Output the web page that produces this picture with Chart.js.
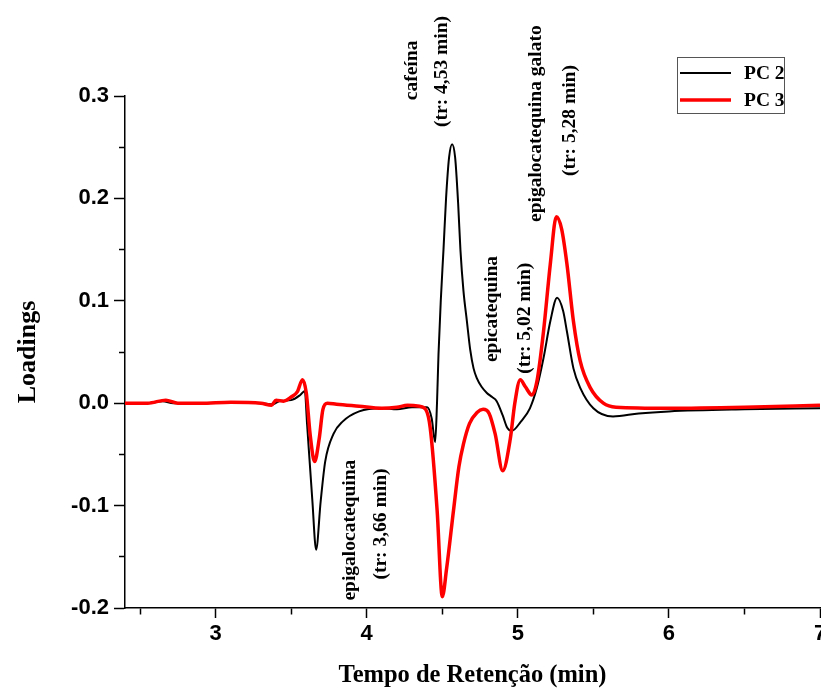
<!DOCTYPE html>
<html lang="pt">
<head>
<meta charset="UTF-8">
<title>Loadings PC 2 / PC 3</title>
<script src="https://cdn.jsdelivr.net/npm/chart.js"></script>
<style>
  body { margin: 0; background: #fff; }
  #wrap { width: 821px; height: 690px; }
</style>
</head>
<body>
<div id="wrap"><canvas id="loadingsChart"></canvas></div>
<script>
// values
const pc2Time = [2.40, 2.55, 2.65, 2.72, 2.90, 3.10, 3.30, 3.38, 3.42, 3.50, 3.56, 3.59, 3.605, 3.64, 3.665, 3.695, 3.725, 3.78, 3.84, 3.95,
  4.10, 4.20, 4.30, 4.40, 4.43, 4.453, 4.465, 4.475, 4.49, 4.508, 4.525, 4.545, 4.565, 4.585, 4.605, 4.62, 4.64, 4.663, 4.685, 4.707,
  4.73, 4.76, 4.795, 4.83, 4.86, 4.90, 4.93, 4.96, 5.02, 5.08, 5.126, 5.17, 5.215, 5.26, 5.30, 5.325, 5.368, 5.413, 5.50, 5.63,
  5.80, 6.00, 6.50, 7.00];
const pc2Loading = [0.000, 0.000, 0.002, 0.000, 0.000, 0.001, 0.000, -0.001, 0.002, 0.003, 0.008, 0.012, -0.020, -0.095, -0.143, -0.096, -0.057, -0.030, -0.018, -0.008,
  -0.005, -0.006, -0.004, -0.004, -0.015, -0.038, 0.000, 0.048, 0.100, 0.150, 0.200, 0.240, 0.253, 0.240, 0.195, 0.150, 0.110, 0.080, 0.052, 0.034,
  0.024, 0.016, 0.010, 0.006, 0.002, -0.012, -0.024, -0.027, -0.018, -0.005, 0.015, 0.044, 0.080, 0.103, 0.090, 0.070, 0.034, 0.015, -0.005, -0.013,
  -0.010, -0.008, -0.006, -0.005];

const pc3Time = [2.40, 2.55, 2.67, 2.75, 2.90, 3.10, 3.30, 3.37, 3.40, 3.45, 3.50, 3.54, 3.575, 3.60, 3.625, 3.655, 3.685, 3.71, 3.74, 3.80,
  3.95, 4.10, 4.20, 4.27, 4.35, 4.39, 4.42, 4.466, 4.50, 4.529, 4.574, 4.61, 4.64, 4.68, 4.73, 4.77, 4.81, 4.85, 4.90, 4.95,
  4.98, 5.016, 5.05, 5.093, 5.126, 5.17, 5.215, 5.255, 5.29, 5.325, 5.368, 5.413, 5.48, 5.566, 5.65, 6.00, 6.50, 7.00];
const pc3Loading = [0.000, 0.000, 0.003, 0.000, 0.000, 0.001, 0.000, -0.002, 0.003, 0.002, 0.006, 0.011, 0.023, 0.010, -0.030, -0.057, -0.035, -0.006, 0.000, -0.001,
  -0.003, -0.005, -0.004, -0.002, -0.003, -0.006, -0.024, -0.105, -0.189, -0.161, -0.105, -0.062, -0.040, -0.020, -0.009, -0.006, -0.010, -0.030, -0.066, -0.035,
  0.000, 0.023, 0.016, 0.008, 0.021, 0.070, 0.136, 0.182, 0.170, 0.136, 0.080, 0.041, 0.015, 0.000, -0.004, -0.005, -0.004, -0.002];

// peak labels (rotated text), anchored in data units
const peakText = ['cafeína', '(tr: 4,53 min)', 'epigalocatequina galato', '(tr: 5,28 min)',
  'epicatequina', '(tr: 5,02 min)', 'epigalocatequina', '(tr: 3,66 min)'];
const peakTime = [4.300, 4.500, 5.122, 5.347, 4.830, 5.049, 3.890, 4.095];
const peakLoading = [0.325, 0.324, 0.273, 0.276, 0.092, 0.083, -0.124, -0.118];

const xMin = 2.4, xMax = 7.0;
const yMin = -0.2, yMax = 0.3;

const serif = '"Liberation Serif", "Times New Roman", serif';
const sans = '"Liberation Sans", Arial, sans-serif';

const toPoints = (ts, vs) => ts.map((t, i) => ({x: t, y: vs[i]}));
const isWhole = (v, step) => Math.abs(Math.round(v / step) * step - v) < 1e-6;

const peakLabels = {
  id: 'peakLabels',
  afterDraw(chart) {
    const {ctx, scales} = chart;
    ctx.save();
    ctx.font = 'bold 19.5px ' + serif;
    ctx.fillStyle = '#000';
    ctx.textAlign = 'center';
    ctx.textBaseline = 'middle';
    peakText.forEach((txt, i) => {
      const px = scales.x.getPixelForValue(peakTime[i]);
      const py = scales.y.getPixelForValue(peakLoading[i]);
      ctx.save();
      ctx.translate(px, py);
      ctx.rotate(-Math.PI / 2);
      ctx.fillText(txt, 0, 0);
      ctx.restore();
    });
    ctx.restore();
  }
};

// legend box sits above the plot area, top right
const boxLegend = {
  id: 'boxLegend',
  afterDraw(chart) {
    const ctx = chart.ctx;
    const left = 677, top = 57, w = 107, h = 56;
    ctx.save();
    ctx.strokeStyle = '#555';
    ctx.lineWidth = 1;
    ctx.strokeRect(left + 0.5, top + 0.5, w, h);
    ctx.font = 'bold 19.5px ' + serif;
    ctx.textBaseline = 'middle';
    ctx.fillStyle = '#000';
    chart.data.datasets.forEach((ds, i) => {
      const y = top + 16 + i * 27;
      ctx.beginPath();
      ctx.strokeStyle = ds.borderColor;
      ctx.lineWidth = ds.borderWidth;
      ctx.moveTo(left + 3, y);
      ctx.lineTo(left + 54, y);
      ctx.stroke();
      ctx.fillText(ds.label, left + 67, y + 1);
    });
    ctx.restore();
  }
};

const chart = new Chart(document.getElementById('loadingsChart'), {
  type: 'line',
  data: {
    datasets: [
      {
        label: 'PC 2',
        data: toPoints(pc2Time, pc2Loading),
        borderColor: '#000000',
        borderWidth: 2,
        order: 1
      },
      {
        label: 'PC 3',
        data: toPoints(pc3Time, pc3Loading),
        borderColor: '#ff0000',
        borderWidth: 3.5,
        order: 0
      }
    ]
  },
  options: {
    responsive: true,
    maintainAspectRatio: false,
    animation: false,
    parsing: false,
    elements: {
      point: { radius: 0 },
      line: { cubicInterpolationMode: 'monotone', fill: false }
    },
    layout: { padding: { top: 96, right: 1, left: 0, bottom: 0 } },
    plugins: {
      legend: { display: false },
      tooltip: { enabled: false }
    },
    scales: {
      x: {
        type: 'linear',
        min: xMin,
        max: xMax,
        afterFit(scale) {
          scale.height = 82;
          scale.paddingLeft = 0;
          scale.paddingRight = 0;
        },
        border: { display: true, color: '#000', width: 1.5 },
        grid: {
          drawOnChartArea: false,
          drawTicks: true,
          tickLength: 10,
          tickColor: '#000',
          tickWidth: 1.5,
          tickBorderDash: ctx => isWhole(ctx.tick.value, 1) ? [] : [6, 100]
        },
        ticks: {
          stepSize: 0.5,
          includeBounds: false,
          autoSkip: false,
          maxRotation: 0,
          padding: 3,
          color: '#000',
          font: { family: sans, size: 22, weight: 'bold' },
          callback: v => isWhole(v, 1) ? String(Math.round(v)) : ''
        },
        title: {
          display: true,
          text: 'Tempo de Retenção (min)',
          color: '#000',
          font: { family: serif, size: 24.5, weight: 'bold' },
          padding: { top: 0, bottom: 0 }
        }
      },
      y: {
        min: yMin,
        max: yMax,
        afterFit(scale) {
          scale.width = 125;
          scale.paddingTop = 0;
          scale.paddingBottom = 0;
        },
        border: { display: true, color: '#000', width: 1.5 },
        grid: {
          drawOnChartArea: false,
          drawTicks: true,
          tickLength: 11,
          tickColor: '#000',
          tickWidth: 1.5,
          tickBorderDash: ctx => isWhole(ctx.tick.value, 0.1) ? [] : [0, 5, 6, 100]
        },
        ticks: {
          stepSize: 0.05,
          autoSkip: false,
          padding: 5,
          color: '#000',
          font: { family: sans, size: 22, weight: 'bold' },
          callback: v => isWhole(v, 0.1) ? (Math.round(v * 10) / 10).toFixed(1) : ''
        },
        title: {
          display: true,
          text: 'Loadings',
          color: '#000',
          font: { family: serif, size: 26, weight: 'bold' },
          padding: { top: 13, bottom: 0 }
        }
      }
    }
  },
  plugins: [peakLabels, boxLegend]
});
</script>
</body>
</html>
